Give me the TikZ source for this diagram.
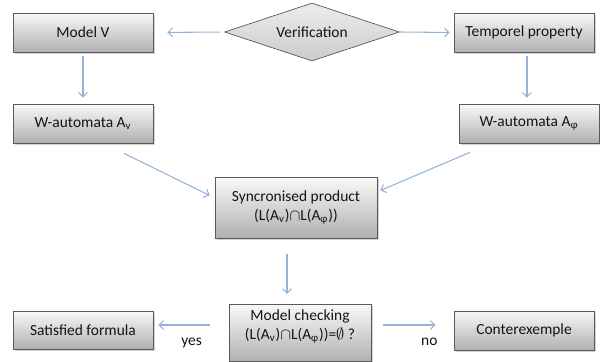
\documentclass[tikz,border=0pt]{standalone}
\usepackage{fontspec}
\setmainfont{Carlito}
\usetikzlibrary{shapes.geometric,shadows,arrows.meta,calc}

\definecolor{linkblue}{RGB}{149,179,215}
\definecolor{boxline}{RGB}{90,90,90}
\definecolor{boxtext}{RGB}{20,20,20}

\tikzset{
  box/.style={draw=boxline, top color=gray!5, bottom color=gray!62,
    drop shadow={shadow xshift=1.2pt, shadow yshift=-1.2pt, opacity=0.35},
    minimum width=2.8cm, minimum height=0.78cm, align=center,
    text=boxtext, font=\fontsize{8.8}{10.5}\selectfont},
  decision/.style={diamond, draw=boxline, top color=gray!15, bottom color=gray!40,
    minimum width=3.5cm, minimum height=1.16cm, inner sep=0pt, aspect=3,
    text=boxtext, font=\fontsize{8.8}{10.5}\selectfont},
  link/.style={draw=linkblue, line width=0.6pt,
    -{Straight Barb[length=2.5pt,width=5pt]}, shorten <=2.3pt, shorten >=2.3pt},
  answer/.style={text=boxtext, font=\fontsize{8.8}{10.5}\selectfont}
}

\begin{document}
\begin{tikzpicture}[x=0.02cm, y=-0.02cm]
        \useasboundingbox (0,0) rectangle (600,362);

        % top row
        \node[decision] (verif) at (312,32) {Verification};
        \node[box] (model) at (83,32.5) {Model V};
        \node[box] (temp) at (524,32.5) {Temporel property};

        % automata
        \node[box] (wv) at (83,123.5) {W-automata A\textsubscript{v}};
        \node[box] (wphi) at (529,123.5) {W-automata A\textsubscript{φ}};

        % product and check
        \node[box, minimum width=3.24cm, minimum height=1.22cm] (sync) at (296,207.5)
          {Syncronised product\\(L(A\textsubscript{v})$\cap$L(A\textsubscript{φ}))};
        \node[box, minimum width=2.84cm, minimum height=1.08cm] (mc) at (300,333)
          {Model checking\\(L(A\textsubscript{v})$\cap$L(A\textsubscript{φ}))=$\emptyset$ ?\\[-1pt]};

        % outcomes
        \node[box, minimum height=0.76cm] (sat) at (83,330) {Satisfied formula};
        \node[box] (cex) at (524,330.5) {Conterexemple};

        % connectors
        \draw[link, shorten >=8pt] (verif.west) -- (model.east);
        \draw[link, shorten <=0pt] (verif.east) -- (temp.west);
        \draw[link, shorten >=3.4pt] (model) -- (wv);
        \draw[link, shorten >=3.4pt] (temp.south -| wphi.north) ++(-2,0) -- ($(wphi.north)+(-2,0)$);
        \draw[link, shorten <=0pt, shorten >=0pt] ($(wv.south)+(41,10)$) -- ($(sync.west)+(-5,-12)$);
        \draw[link, shorten <=0pt, shorten >=0pt] ($(wphi.south)+(-59,9)$) -- ($(sync.east)+(3,-17)$);
        \draw[link] ($(sync.south)+(-9,12)$) -- ($(mc.north)+(-13,-6)$);
        \draw[link, shorten <=0pt, shorten >=0pt] ($(mc.west)+(-19,-8)$) -- ($(sat.east)+(5,-5)$)
          node[answer, pos=0.35, below=4pt] (yes) {yes};
        \draw[link, shorten <=0pt, shorten >=0pt] ($(mc.east)+(12,-8)$) -- ($(cex.west)+(-18,-5.5)$)
          node[answer, pos=0.88, below=4pt] (no) {no};

    \end{tikzpicture}
\end{document}
